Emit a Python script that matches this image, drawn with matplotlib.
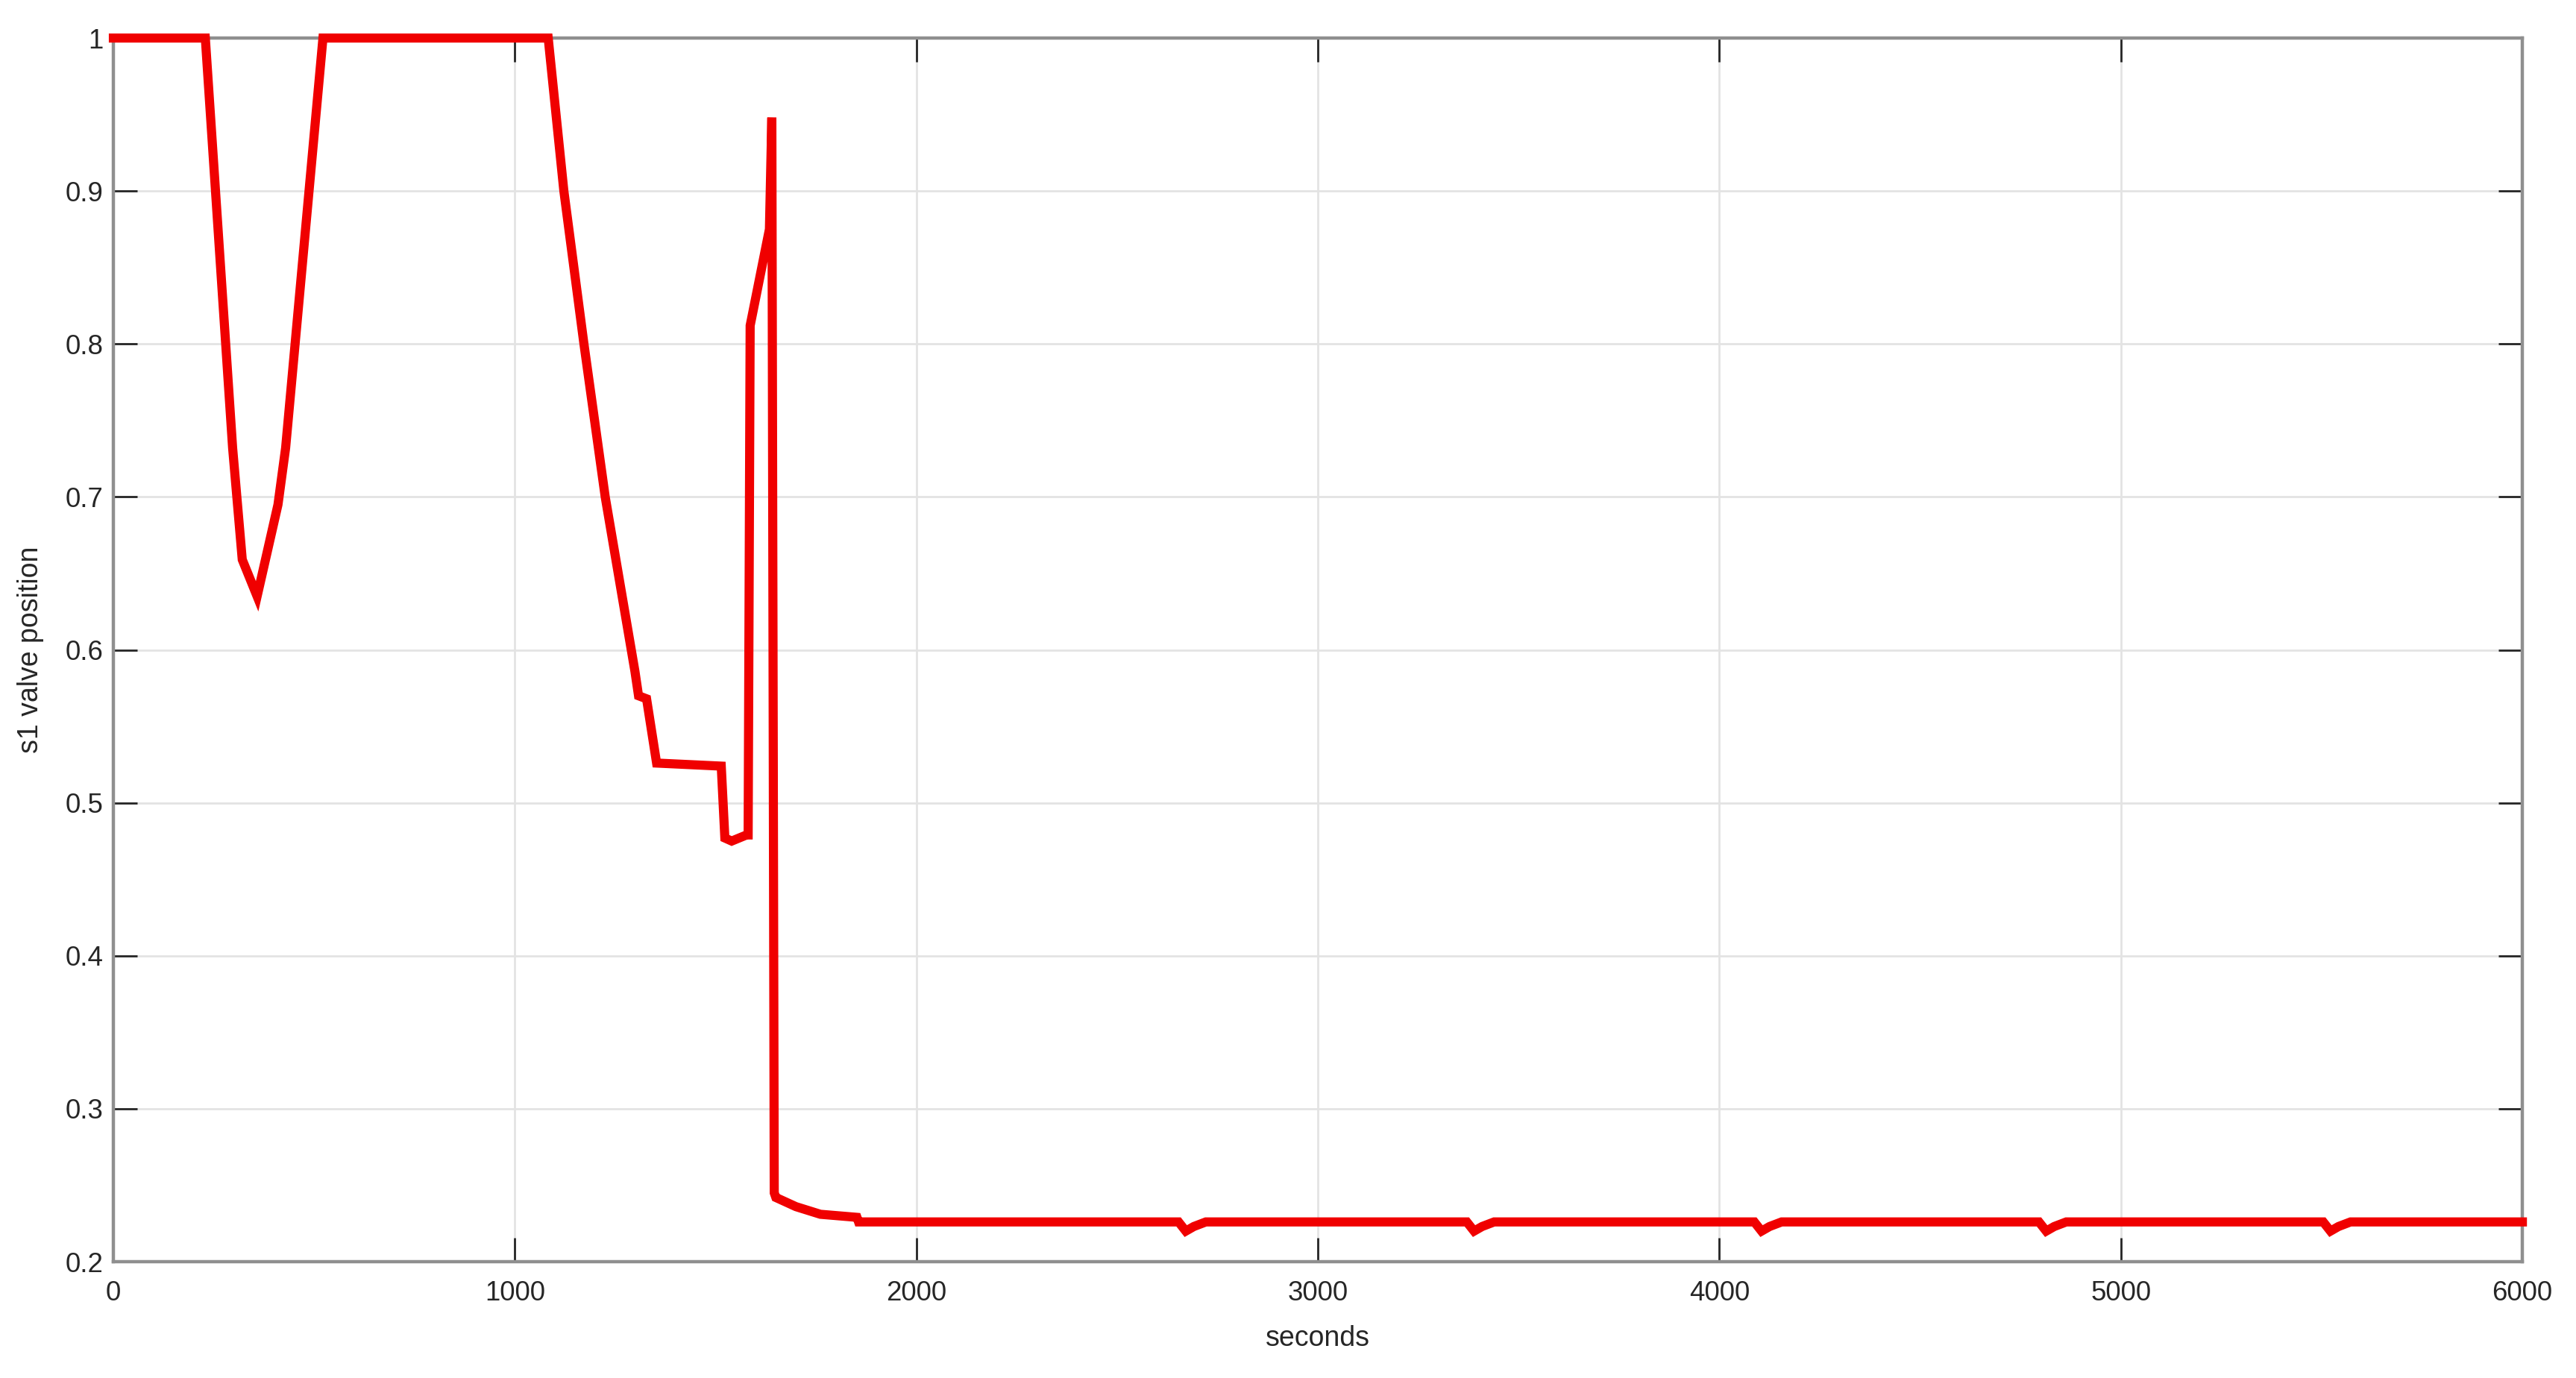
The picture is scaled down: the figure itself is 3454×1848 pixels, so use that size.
import numpy as np
import matplotlib
matplotlib.use('Agg')
import matplotlib.pyplot as plt
from matplotlib.ticker import FuncFormatter

# time (s) and valve position
t_start = [0, 229, 297, 321, 358, 410, 429, 522, 1083, 1122, 1172, 1225, 1299, 1308,
           1328, 1353, 1514, 1523, 1540, 1577, 1581, 1586, 1634, 1640, 1646, 1650,
           1700, 1761, 1852, 1856, 1900]
v_start = [1.0, 1.0, 0.732, 0.659, 0.635, 0.695, 0.732, 1.0, 1.0, 0.9, 0.8, 0.7, 0.586, 0.570,
           0.568, 0.526, 0.524, 0.477, 0.475, 0.479, 0.479, 0.812, 0.875, 0.948, 0.245, 0.242,
           0.236, 0.231, 0.229, 0.226, 0.226]

# small dips in the steady part
dip_centres = [2671, 3389, 4105, 4814, 5522]
dip_shape_t = [-18, 0, 20, 50]
dip_shape_v = [0.226, 0.220, 0.223, 0.226]
t_end = 6000
v_end = 0.226

t = list(t_start)
v = list(v_start)
for c in dip_centres:
    for dt, dv in zip(dip_shape_t, dip_shape_v):
        t.append(c + dt)
        v.append(dv)
t.append(t_end)
v.append(v_end)

plt.rcParams['font.family'] = ['Liberation Sans', 'DejaVu Sans']

fig = plt.figure(figsize=(17.275, 9.24), dpi=200)
ax = fig.add_axes([0.044, 0.0844, 0.9349, 0.888])

ax.plot(t, v, color='#f00000', linewidth=4.4, solid_joinstyle='miter', clip_on=False, zorder=5)

ax.set_xlim(0, 6000)
ax.set_ylim(0.2, 1.0)
ax.set_xticks(np.arange(0, 6001, 1000))
ax.set_yticks(np.arange(0.2, 1.001, 0.1))
ax.yaxis.set_major_formatter(FuncFormatter(lambda y, p: '%g' % round(y, 2)))

ax.grid(True, color='#e3e3e3', linewidth=1.0)
ax.set_axisbelow(True)
for s in ax.spines.values():
    s.set_color('#8f8f8f')
    s.set_linewidth(1.6)
    s.set_zorder(4)

ax.tick_params(direction='in', length=11.5, width=1.0, color='#262626',
               top=True, right=True, labelsize=13.2, labelcolor='#262626')
ax.tick_params(axis='x', pad=9)
ax.tick_params(axis='y', pad=5)

ax.set_xlabel('seconds', fontsize=13.5, color='#262626', labelpad=9)
ax.set_ylabel('s1 valve position', fontsize=13.5, color='#262626', labelpad=10)

fig.savefig('out.png', dpi=200)
